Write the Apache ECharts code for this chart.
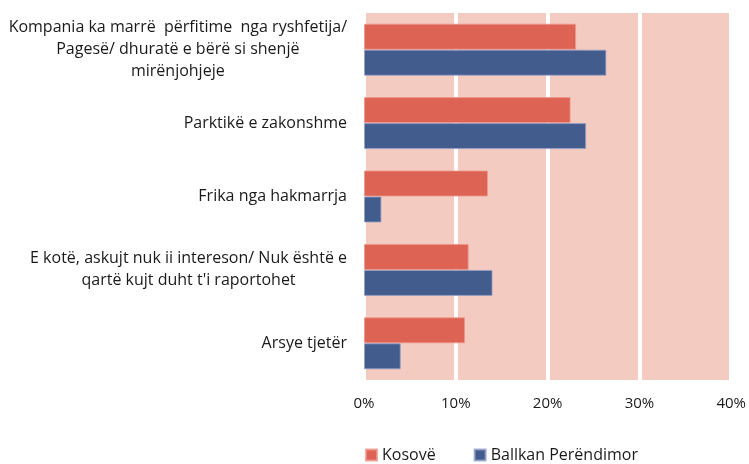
<!DOCTYPE html>
<html>
<head>
<meta charset="utf-8">
<script src="https://cdn.jsdelivr.net/npm/echarts@6/dist/echarts.min.js"></script>
<style>
  html, body { margin: 0; padding: 0; background: #fff; }
  #chart { width: 749px; height: 464px; }
</style>
</head>
<body>
<div id="chart"></div>
<script>
// kategoritë (me ndarje rreshtash si në origjinal)
const categories = [
  "Kompania ka marrë  përfitime  nga ryshfetija/\nPagesë/ dhuratë e bërë si shenjë\nmirënjohjeje",
  "Parktikë e zakonshme",
  "Frika nga hakmarrja",
  "E kotë, askujt nuk ii intereson/ Nuk është e\nqartë kujt duht t'i raportohet",
  "Arsye tjetër"
];
const kosove = [23.1, 22.5, 13.5, 11.4, 11.0];
const ballkan = [26.4, 24.2, 1.9, 14.0, 4.0];
const seriesNames = ["Kosovë", "Ballkan Perëndimor"];

const font = "'Open Sans', 'Noto Sans', sans-serif";
const chart = echarts.init(document.getElementById("chart"));

chart.setOption({
  animation: false,
  textStyle: { fontFamily: font },
  legend: {
    top: 447,
    left: 365,
    padding: 0,
    icon: "rect",
    itemWidth: 11,
    itemHeight: 11,
    itemGap: 38,
    itemTextGap: 2,
    textStyle: { fontSize: 16, color: "#1a1a1a", fontFamily: font },
    data: seriesNames
  },
  grid: {
    left: 364,
    right: 16,
    top: 13,
    bottom: 84,
    show: true,
    backgroundColor: "#F4CBC0",
    borderWidth: 0
  },
  xAxis: {
    type: "value",
    min: 0,
    max: 40,
    interval: 10,
    axisLine: { show: false },
    axisTick: { show: false },
    axisLabel: {
      formatter: "{value}%",
      fontSize: 15,
      color: "#1a1a1a",
      margin: 16
    },
    splitLine: { show: true, lineStyle: { color: "#ffffff", width: 4 } }
  },
  yAxis: {
    type: "category",
    inverse: true,
    data: categories,
    axisLine: { show: false },
    axisTick: { show: false },
    axisLabel: {
      color: "#1a1a1a",
      align: "right",
      margin: 17,
      formatter: function (v) {
        return v.split("\n").map(function (s) { return "{c|" + s + "}"; }).join("\n");
      },
      rich: {
        c: { align: "center", fontSize: 16, lineHeight: 22, color: "#1a1a1a", fontFamily: font }
      }
    }
  },
  series: [
    {
      name: seriesNames[0],
      type: "bar",
      data: kosove,
      barWidth: 26,
      barGap: "0%",
      itemStyle: { color: "#DD6454", borderColor: "rgba(240,150,140,0.8)", borderWidth: 1 }
    },
    {
      name: seriesNames[1],
      type: "bar",
      data: ballkan,
      barWidth: 26,
      itemStyle: { color: "#425C8E", borderColor: "rgba(150,160,200,0.8)", borderWidth: 1 }
    }
  ]
});
</script>
</body>
</html>
